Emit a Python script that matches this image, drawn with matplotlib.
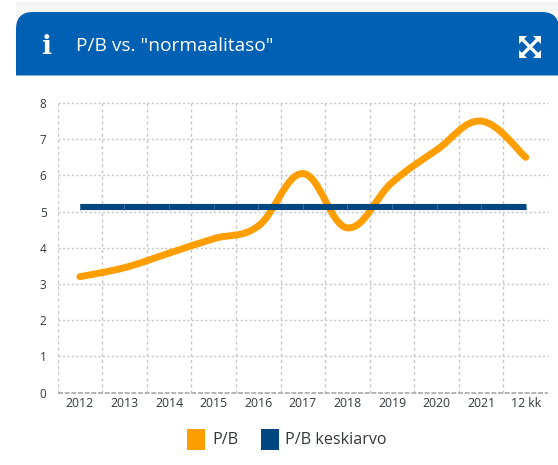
import numpy as np
import matplotlib
matplotlib.use("Agg")
import matplotlib.pyplot as plt
from matplotlib.patches import FancyBboxPatch, PathPatch, Rectangle
from matplotlib.path import Path

# Values
categories = ["2012", "2013", "2014", "2015", "2016", "2017", "2018", "2019", "2020", "2021", "12 kk"]
pb_values = [3.2, 3.45, 3.85, 4.25, 4.6, 6.05, 4.55, 5.8, 6.7, 7.5, 6.5]
pb_average = [5.12] * 11
y_ticks = [0, 1, 2, 3, 4, 5, 6, 7, 8]

ORANGE = "#ff9e00"
NAVY = "#004680"
HEADER = "#0060b4"
GRID = "#c8c8c8"
TEXT = "#33383d"
W, H = 558, 465


def smooth_path(x, y, tension=0.19):
    # bezier through the points, same idea as a spline series in a web chart
    verts = [(x[0], y[0])]
    codes = [Path.MOVETO]
    for i in range(len(x) - 1):
        prev_i = max(i - 1, 0)
        next_i = min(i + 2, len(x) - 1)
        c1 = (x[i] + (x[i + 1] - x[prev_i]) * tension, y[i] + (y[i + 1] - y[prev_i]) * tension)
        c2 = (x[i + 1] - (x[next_i] - x[i]) * tension, y[i + 1] - (y[next_i] - y[i]) * tension)
        verts += [c1, c2, (x[i + 1], y[i + 1])]
        codes += [Path.CURVE4] * 3
    return Path(verts, codes)


fig = plt.figure(figsize=(W / 100, H / 100), dpi=100, facecolor="white")

# card background and header, in pixel coordinates
bg = fig.add_axes([0, 0, 1, 1], zorder=0)
bg.set_xlim(0, W)
bg.set_ylim(H, 0)
bg.axis("off")
bg.add_patch(Rectangle((16, 2), W - 16, H - 2, fc="#f4f5f5", ec="none"))
bg.add_patch(FancyBboxPatch((22, 18), W + 40, H, boxstyle="round,pad=6,rounding_size=16", fc="white", ec="none"))
bg.add_patch(FancyBboxPatch((16, 12), W - 16 + 1, 80, boxstyle="round,pad=0,rounding_size=17", fc=HEADER, ec="none"))
bg.add_patch(Rectangle((16, 75), W - 16, 30, fc="white", ec="none"))
bg.add_patch(Rectangle((16, 75), W, 1, fc="#3a80c4", ec="none", alpha=0.6))
bg.text(46, 46, "i", color="white", fontsize=19, family="DejaVu Serif", fontweight="bold", ha="center", va="center")
bg.text(76, 46, 'P/B vs. "normaalitaso"', color="white", fontsize=13.8, family="Open Sans", ha="left", va="center")

# expand icon
for sx, sy in [(-1, -1), (1, -1), (-1, 1), (1, 1)]:
    cx, cy = 530, 47
    bg.plot([cx, cx + sx * 8], [cy, cy + sy * 8], color="white", lw=2.4, solid_capstyle="butt")
    bg.add_patch(plt.Polygon([(cx + sx * 11, cy + sy * 11), (cx + sx * 3, cy + sy * 11), (cx + sx * 11, cy + sy * 3)],
                             fc="white", ec="none"))

# plot area
left, right, top, bottom = 57.6, 548, 103, 392.5
ax = fig.add_axes([left / W, 1 - bottom / H, (right - left) / W, (bottom - top) / H], zorder=1)
ax.patch.set_alpha(0)
x = np.arange(len(categories))
ax.set_xlim(-0.5, len(categories) - 0.5)
ax.set_ylim(0, 8)
for s in ax.spines.values():
    s.set_visible(False)

ax.set_yticks(y_ticks)
ax.set_xticks(x)
ax.set_xticklabels(categories)
ax.tick_params(axis="both", length=0, labelcolor=TEXT)
ax.tick_params(axis="x", pad=3, labelsize=8.8)
ax.tick_params(axis="y", pad=8, labelsize=8.5)
for lab in ax.get_xticklabels() + ax.get_yticklabels():
    lab.set_family("Open Sans")

for v in y_ticks[1:]:
    ax.axhline(v, color=GRID, lw=1, ls=(0, (1.6, 1.6)), clip_on=False)
for b in np.arange(len(categories)) - 0.5:
    ax.axvline(b, color=GRID, lw=1, ls=(0, (2.2, 2.2)))
ax.axhline(0, color="#a8a8a8", lw=1.2, ls=(0, (3, 1)), clip_on=False)

ax.add_patch(PathPatch(smooth_path(x, pb_values), fc="none", ec=ORANGE, lw=5, capstyle="round", joinstyle="round", zorder=3))
ax.plot(x, pb_average, color=NAVY, lw=4.4, zorder=4, solid_capstyle="butt")
ax.plot(x, pb_average, ls="none", marker="|", ms=4.4, mew=0.6, color="#3f78a8", zorder=5)

# legend
bg.add_patch(Rectangle((187, 429), 18, 21, fc=ORANGE, ec="none"))
bg.add_patch(Rectangle((261, 429), 18, 21, fc=NAVY, ec="none"))
bg.text(212, 440, "P/B", color=TEXT, fontsize=11.6, family="Open Sans", ha="left", va="center")
bg.text(285, 440, "P/B keskiarvo", color=TEXT, fontsize=11.6, family="Open Sans", ha="left", va="center")

fig.savefig("out.png", dpi=100)
